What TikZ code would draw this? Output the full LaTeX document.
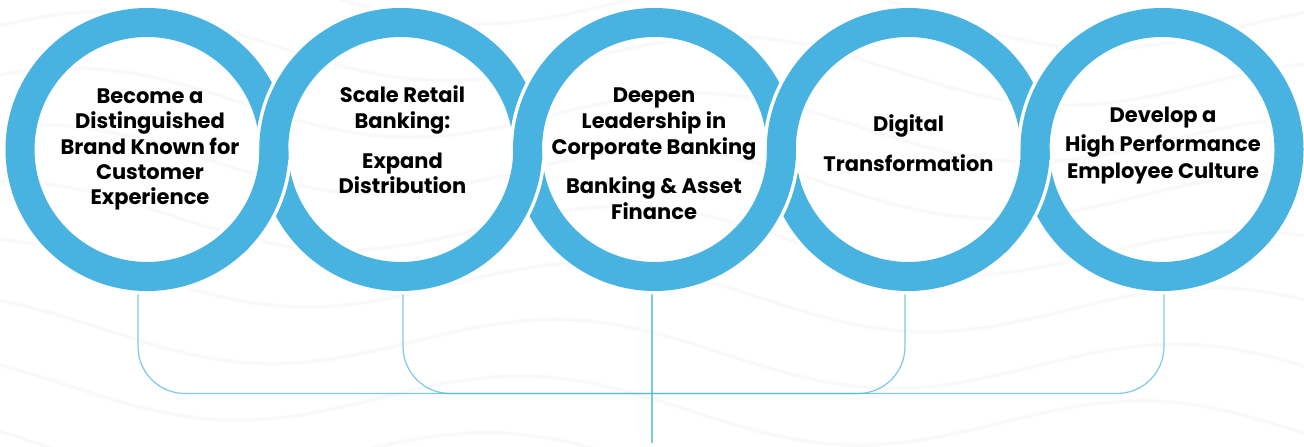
\documentclass[tikz,border=0pt]{standalone}
\usepackage{fontspec}
\newfontfamily\popfont{Poppins}
\definecolor{ringblue}{RGB}{72,179,225}
\definecolor{connblue}{RGB}{72,179,225}
\tikzset{
  ringband/.style={line width=29pt, draw=ringblue},
  ringgap/.style={line width=36pt, draw=white},
  conn/.style={draw=connblue, line width=1.2pt, draw opacity=0.7, rounded corners=47pt},
  lbl/.style={font=\popfont\bfseries\fontsize{21}{25}\selectfont, text=black, anchor=base, inner sep=0pt},
  wave/.style={draw=black!2.5, line width=3.5pt}
}
\begin{document}
\begin{tikzpicture}[x=1pt,y=1pt]
\useasboundingbox (0,0) rectangle (1304,447);
\fill[white] (0,0) rectangle (1304,447);
% faint background waves
\begin{scope}
\clip (0,0) rectangle (1304,447);
\foreach \y/\p in {470/0,412/20,354/40,296/60,238/80,180/100,122/120,64/140,6/160}{
  \draw[wave] plot[domain=-20:1330, samples=90, smooth] (\x, {\y + 28*sin(\x*0.58 + \p) - 0.04*\x});
}
\end{scope}
% coordinates
\foreach \i/\x in {1/147,2/400.75,3/654.5,4/908.25,5/1162}{
  \coordinate (c\i) at (\x,297.5);
}
\coordinate (b1) at (138,160);
\coordinate (b2) at (403,160);
\coordinate (b3) at (652,160);
\coordinate (b4) at (905,160);
\coordinate (b5) at (1164,160);
\coordinate (hl) at (652,53.5);
\coordinate (e3) at (652,4);
% connectors
\draw[conn] (b1) -- (b1 |- hl) -- (b5 |- hl) -- (b5);
\draw[conn] (b2) -- (b2 |- hl) -- (b4 |- hl) -- (b4);
\draw[conn, rounded corners=0pt] (b3) -- (e3);
% rings
\foreach \i in {1,...,5}{
  \draw[ringgap] (c\i) circle[radius=127pt];
  \draw[ringband] (c\i) circle[radius=127pt];
}
\foreach \i in {1,...,4}{
  \draw[ringgap] (c\i) ++(-4:127pt) arc[start angle=-4, end angle=-44, radius=127pt];
  \draw[ringband] (c\i) ++(0:127pt) arc[start angle=0, end angle=-47, radius=127pt];
}
% labels
\node[lbl] (t1a) at (150,343) {Become a};
\node[lbl] (t1b) at (150,318) {Distinguished};
\node[lbl] (t1c) at (150,292) {Brand Known for};
\node[lbl] (t1d) at (150,267) {Customer};
\node[lbl] (t1e) at (150,242) {Experience};
\node[lbl] (t2a) at (402.5,344) {Scale Retail};
\node[lbl] (t2b) at (402.5,318) {Banking:};
\node[lbl] (t2c) at (402.5,278) {Expand};
\node[lbl] (t2d) at (402.5,253) {Distribution};
\node[lbl] (t3a) at (654,344) {Deepen};
\node[lbl] (t3b) at (654,318) {Leadership in};
\node[lbl] (t3c) at (654,292) {Corporate Banking};
\node[lbl] (t3d) at (654,253) {Banking \& Asset};
\node[lbl] (t3e) at (654,227) {Finance};
\node[lbl] (t4a) at (908.5,315) {Digital};
\node[lbl] (t4b) at (908.5,275) {Transformation};
\node[lbl] (t5a) at (1163,324) {Develop a};
\node[lbl] (t5b) at (1163,295.5) {High Performance};
\node[lbl] (t5c) at (1163,268.5) {Employee Culture};
\end{tikzpicture}
\end{document}
